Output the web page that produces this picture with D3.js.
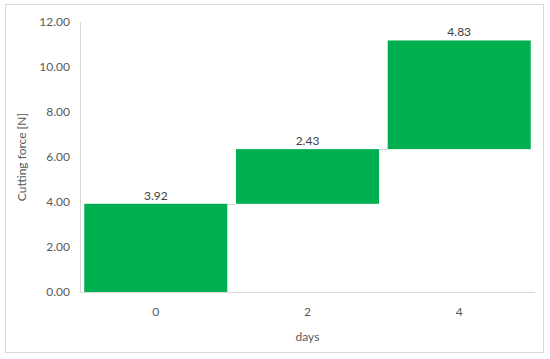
<!DOCTYPE html>
<html>
<head>
<meta charset="utf-8">
<script src="https://cdn.jsdelivr.net/npm/d3@7"></script>
<style>
  body { margin: 0; background: #fff; }
  text { font-family: Lato, "Open Sans", sans-serif; }
</style>
</head>
<body>
<div id="chart"></div>
<script>
var days = ["0", "2", "4"];
var increments = [3.92, 2.43, 4.83];
var yTicks = [0, 2, 4, 6, 8, 10, 12];

var w = 550, h = 359;
var plotLeft = 80, plotRight = 535, plotTop = 22, plotBottom = 292;

var svg = d3.select("#chart").append("svg").attr("width", w).attr("height", h);

// chart border
svg.append("rect")
    .attr("x", 5.5).attr("y", 4.5).attr("width", 538).attr("height", 348)
    .attr("fill", "#fff").attr("stroke", "#d9d9d9");

// running totals for the waterfall
var steps = [];
var run = 0;
increments.forEach(function (d, i) {
    steps.push({ day: days[i], start: run, end: run + d, value: d });
    run += d;
});

var x = d3.scaleBand().domain(days).range([plotLeft, plotRight]).paddingInner(0.057).paddingOuter(0.028);
var y = d3.scaleLinear().domain([0, 12]).range([plotBottom, plotTop]);

// connectors between bars
steps.forEach(function (d, i) {
    if (i < steps.length - 1) {
        svg.append("line")
            .attr("x1", x(d.day) + x.bandwidth()).attr("x2", x(steps[i + 1].day))
            .attr("y1", Math.round(y(d.end)) + 0.5).attr("y2", Math.round(y(d.end)) + 0.5)
            .attr("stroke", "#d9d9d9");
    }
});

// axes lines
svg.append("line").attr("x1", plotLeft + 0.5).attr("x2", plotLeft + 0.5).attr("y1", plotTop).attr("y2", plotBottom)
    .attr("stroke", "#d9d9d9");
svg.append("line").attr("x1", plotLeft).attr("x2", plotRight).attr("y1", plotBottom + 0.5).attr("y2", plotBottom + 0.5)
    .attr("stroke", "#d9d9d9");

svg.selectAll("rect.bar")
    .data(steps)
    .enter()
    .append("rect")
    .attr("class", "bar")
    .attr("x", function (d) { return x(d.day); })
    .attr("y", function (d) { return y(d.end); })
    .attr("width", x.bandwidth())
    .attr("height", function (d) { return y(d.start) - y(d.end); })
    .attr("fill", "#00B050");

// value labels
svg.selectAll("text.val")
    .data(steps)
    .enter()
    .append("text")
    .attr("class", "val")
    .text(function (d) { return d.value.toFixed(2); })
    .attr("x", function (d) { return x(d.day) + x.bandwidth() / 2; })
    .attr("y", function (d) { return y(d.end) - 4; })
    .attr("text-anchor", "middle")
    .attr("font-size", 12)
    .attr("fill", "#404040");

// y tick labels
svg.selectAll("text.ytick")
    .data(yTicks)
    .enter()
    .append("text")
    .attr("class", "ytick")
    .text(function (d) { return d.toFixed(2); })
    .attr("x", 70)
    .attr("y", function (d) { return y(d) + 4; })
    .attr("text-anchor", "end")
    .attr("font-size", 12)
    .attr("fill", "#595959");

// x tick labels
svg.selectAll("text.xtick")
    .data(days)
    .enter()
    .append("text")
    .attr("class", "xtick")
    .text(function (d) { return d; })
    .attr("x", function (d) { return x(d) + x.bandwidth() / 2; })
    .attr("y", 316)
    .attr("text-anchor", "middle")
    .attr("font-size", 12)
    .attr("fill", "#595959");

// axis titles
svg.append("text")
    .text("days")
    .attr("x", (plotLeft + plotRight) / 2)
    .attr("y", 341)
    .attr("text-anchor", "middle")
    .attr("font-size", 12)
    .attr("fill", "#595959");

svg.append("text")
    .text("Cutting force [N]")
    .attr("transform", "translate(26," + (plotTop + plotBottom) / 2 + ") rotate(-90)")
    .attr("text-anchor", "middle")
    .attr("font-size", 12)
    .attr("fill", "#595959");
</script>
</body>
</html>
